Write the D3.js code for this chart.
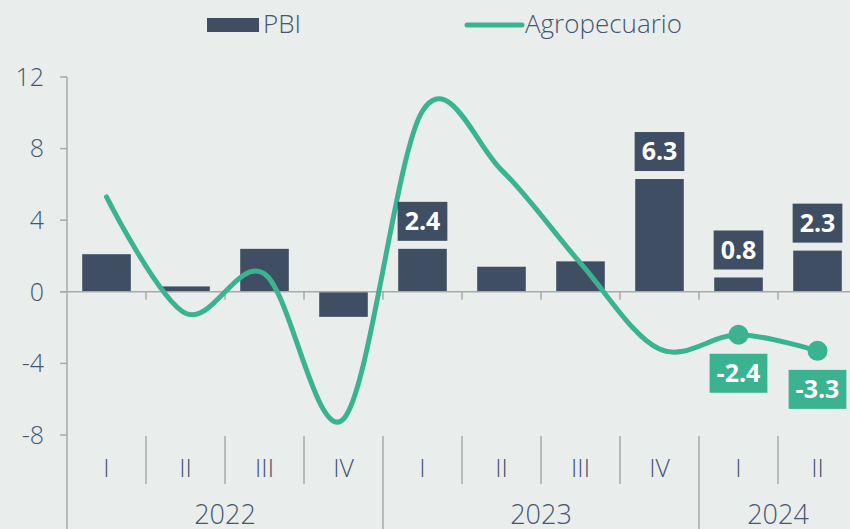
<!DOCTYPE html>
<html>
<head>
<meta charset="utf-8">
<script src="https://cdn.jsdelivr.net/npm/d3@7"></script>
<style>
  html, body { margin: 0; padding: 0; background: #e9eeed; }
  svg { display: block; font-family: "Open Sans", "Lato", sans-serif; }
</style>
</head>
<body>
<svg id="chart" width="850" height="529"></svg>
<script>
// data
const quarters = ['I', 'II', 'III', 'IV', 'I', 'II', 'III', 'IV', 'I', 'II'];
const years = ['2022', '2022', '2022', '2022', '2023', '2023', '2023', '2023', '2024', '2024'];
const pbi = [2.1, 0.3, 2.4, -1.4, 2.4, 1.4, 1.7, 6.3, 0.8, 2.3];
const agro = [5.3, -1.2, 1.0, -7.1, 10.1, 6.8, 1.6, -3.2, -2.4, -3.3];
const yTicks = [-8, -4, 0, 4, 8, 12];
const pbiLabelIdx = [4, 7, 8, 9];
const agroLabelIdx = [8, 9];

const dark = '#3f4e63', green = '#3bb391', grid = '#a8aaa9', txt = '#46566d';

const svg = d3.select('#chart');
const keys = quarters.map((q, i) => i);

const x = d3.scaleBand().domain(keys).range([67, 857]).padding(0);
const y = d3.scaleLinear().domain([-8, 12]).range([435, 77]);
const barW = x.bandwidth() * 0.615;
const cx = i => x(i) + x.bandwidth() / 2;

/* legend */
svg.append('rect').attr('x', 207).attr('y', 18).attr('width', 52).attr('height', 14).attr('fill', dark);
svg.append('text').attr('x', 263).attr('y', 33).attr('font-size', 26).attr('font-weight', 300)
  .attr('fill', txt).text('PBI');
svg.append('line').attr('x1', 467).attr('x2', 522).attr('y1', 25).attr('y2', 25)
  .attr('stroke', green).attr('stroke-width', 5).attr('stroke-linecap', 'round');
svg.append('text').attr('x', 525).attr('y', 33).attr('font-size', 26).attr('font-weight', 300)
  .attr('fill', txt).text('Agropecuario');

/* y axis */
svg.append('line').attr('x1', 67).attr('x2', 67).attr('y1', y(12)).attr('y2', 529)
  .attr('stroke', grid).attr('stroke-width', 1.5);
const yt = svg.append('g').selectAll('g').data(yTicks).enter().append('g');
yt.append('line').attr('x1', 60).attr('x2', 67).attr('y1', d => y(d)).attr('y2', d => y(d))
  .attr('stroke', grid).attr('stroke-width', 1.5);
yt.append('text').attr('x', 44).attr('y', d => y(d)).attr('dy', '0.35em').attr('text-anchor', 'end')
  .attr('font-size', 25).attr('font-weight', 300).attr('fill', txt).text(d => d);

/* bars */
svg.append('g').selectAll('rect').data(pbi).enter().append('rect')
  .attr('x', (d, i) => cx(i) - barW / 2)
  .attr('y', d => y(Math.max(0, d)))
  .attr('width', barW)
  .attr('height', d => Math.abs(y(d) - y(0)))
  .attr('fill', dark);

/* zero line + ticks */
svg.append('line').attr('x1', 60).attr('x2', 850).attr('y1', y(0)).attr('y2', y(0))
  .attr('stroke', grid).attr('stroke-width', 1.5);
svg.append('g').selectAll('line').data(keys.slice(1)).enter().append('line')
  .attr('x1', d => x(d)).attr('x2', d => x(d)).attr('y1', y(0)).attr('y2', y(0) + 8)
  .attr('stroke', grid).attr('stroke-width', 1.5);

/* category axis */
svg.append('g').selectAll('line').data(keys.slice(1)).enter().append('line')
  .attr('x1', d => x(d)).attr('x2', d => x(d))
  .attr('y1', 436)
  .attr('y2', d => years[d] !== years[d - 1] ? 529 : 484)
  .attr('stroke', grid).attr('stroke-width', 1.5);
svg.append('g').selectAll('text').data(quarters).enter().append('text')
  .attr('x', (d, i) => cx(i)).attr('y', 468).attr('dy', '0.35em').attr('text-anchor', 'middle')
  .attr('font-size', 25).attr('font-weight', 300).attr('fill', txt).text(d => d);
const yearGroups = d3.groups(keys, i => years[i]);
svg.append('g').selectAll('text').data(yearGroups).enter().append('text')
  .attr('x', d => (x(d[1][0]) + x(d[1][d[1].length - 1]) + x.bandwidth()) / 2)
  .attr('y', 515).attr('dy', '0.35em').attr('text-anchor', 'middle')
  .attr('font-size', 27).attr('font-weight', 300).attr('fill', txt).text(d => d[0]);

/* agro line */
const line = d3.line().x((d, i) => cx(i)).y(d => y(d)).curve(d3.curveCardinal.tension(0));
svg.append('path').datum(agro).attr('d', line).attr('fill', 'none')
  .attr('stroke', green).attr('stroke-width', 5).attr('stroke-linecap', 'round');
svg.append('g').selectAll('circle').data(agroLabelIdx).enter().append('circle')
  .attr('cx', i => cx(i)).attr('cy', i => y(agro[i])).attr('r', 10).attr('fill', green);

/* data labels */
function label(i, v, cyTop, fill) {
  const g = svg.append('g');
  const t = g.append('text').attr('x', cx(i)).attr('y', cyTop + 19.5).attr('dy', '0.35em')
    .attr('text-anchor', 'middle').attr('font-size', 25).attr('font-weight', 700)
    .attr('fill', '#fff').text(v.toFixed(1));
  const w = t.node().getComputedTextLength() + 14;
  g.insert('rect', 'text').attr('x', cx(i) - w / 2).attr('y', cyTop).attr('width', w).attr('height', 39)
    .attr('fill', fill);
}
pbiLabelIdx.forEach(i => label(i, pbi[i], y(pbi[i]) - 8 - 39, dark));
agroLabelIdx.forEach(i => label(i, agro[i], y(agro[i]) + 19, green));
</script>
</body>
</html>
